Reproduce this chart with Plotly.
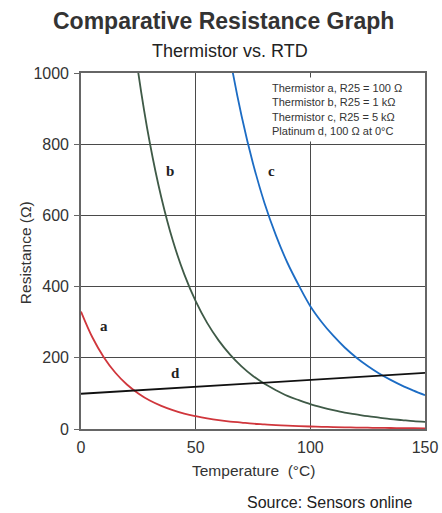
import plotly.graph_objects as go

# Temperatures (°C)
temps = [0, 5, 10, 15, 20, 25, 30, 35, 40, 45, 50, 55, 60, 65, 70, 75,
         80, 85, 90, 95, 100, 105, 110, 115, 120, 125, 130, 135, 140, 145, 150]

# Thermistor a, R25 = 100 ohm
res_a = [330, 257, 201, 158, 125, 100, 80, 65, 53, 43, 36, 30, 25, 21, 18, 15,
         13, 11, 9.3, 8.1, 7.0, 6.1, 5.3, 4.6, 4.1, 3.6, 3.2, 2.8, 2.5, 2.2, 2.0]
# Thermistor b, R25 = 1 kohm
res_b = [3362, 2593, 2018, 1584, 1254, 1000, 804, 651, 530, 435, 359, 298, 249, 209, 176, 149,
         127, 109, 93, 81, 70, 61, 53, 46, 41, 36, 32, 28, 25, 22, 20]
# Thermistor c, R25 = 5 kohm
res_c = [16810, 12965, 10088, 7919, 6268, 5000, 4019, 3253, 2651, 2174, 1794, 1489, 1243, 1043, 880, 746,
         635, 544, 467, 403, 345, 300, 262, 229, 201, 177, 156, 138, 122, 108, 95]
# Platinum RTD d, 100 ohm at 0 °C
temps_d = [0, 50, 100, 150]
res_d = [99, 118.5, 138, 157.5]

curve_labels = ["a", "b", "c", "d"]
label_x = [10, 39, 83, 41]
label_y = [290, 724, 724, 158]

legend_lines = ["Thermistor a, R25 = 100 Ω", "Thermistor b, R25 = 1 kΩ",
                "Thermistor c, R25 = 5 kΩ", "Platinum d, 100 Ω at 0°C"]

x_ticks = [0, 50, 100, 150]
y_ticks = [0, 200, 400, 600, 800, 1000]

FONT = "Arial, Liberation Sans, Helvetica, sans-serif"

fig = go.Figure()
fig.add_trace(go.Scatter(x=temps, y=res_a, mode="lines",
                         line=dict(color="#d0363c", width=1.8, shape="spline", smoothing=1)))
fig.add_trace(go.Scatter(x=temps, y=res_b, mode="lines",
                         line=dict(color="#3f5a47", width=1.8, shape="spline", smoothing=1)))
fig.add_trace(go.Scatter(x=temps, y=res_c, mode="lines",
                         line=dict(color="#1c6cc4", width=1.8, shape="spline", smoothing=1)))
fig.add_trace(go.Scatter(x=temps_d, y=res_d, mode="lines",
                         line=dict(color="#111111", width=1.8)))

for t, xv, yv in zip(curve_labels, label_x, label_y):
    fig.add_annotation(x=xv, y=yv, text="<b>%s</b>" % t, showarrow=False,
                       font=dict(family="Liberation Serif", size=15, color="#222"))

# legend text box
fig.add_annotation(x=0.541, xref="paper", y=0.989, yref="paper",
                   xanchor="left", yanchor="top", align="left",
                   text="<br>".join(legend_lines), showarrow=False,
                   bgcolor="white", borderpad=4,
                   font=dict(family=FONT, size=11, color="#333"))

# titles
fig.add_annotation(x=0.5, xref="paper", y=1, yref="paper", yshift=52, xshift=-30,
                   yanchor="middle", text="<b>Comparative Resistance Graph</b>", showarrow=False,
                   font=dict(family=FONT, size=23, color="#333"))
fig.add_annotation(x=0.5, xref="paper", y=1, yref="paper", yshift=22, xshift=-23,
                   yanchor="middle", text="Thermistor vs. RTD", showarrow=False,
                   font=dict(family=FONT, size=18, color="#222"))
# axis titles
fig.add_annotation(x=0.5, xref="paper", y=0, yref="paper", yshift=-41, yanchor="middle",
                   text="Temperature &nbsp;(°C)", showarrow=False,
                   font=dict(family=FONT, size=15.5, color="#333"))
fig.add_annotation(x=0, xref="paper", y=0.494, yref="paper", xshift=-56, xanchor="center",
                   yanchor="middle", textangle=-90, text="Resistance (Ω)", showarrow=False,
                   font=dict(family=FONT, size=15.5, color="#333"))
# source
fig.add_annotation(x=1, xref="paper", y=0, yref="paper", xshift=-10, yshift=-73,
                   xanchor="right", yanchor="middle", text="Source: Sensors online",
                   showarrow=False, font=dict(family=FONT, size=16, color="#222"))

fig.update_layout(
    width=442, height=513,
    margin=dict(l=81, r=17, t=73, b=84),
    paper_bgcolor="white", plot_bgcolor="white",
    showlegend=False,
    font=dict(family=FONT, size=16, color="#333"),
    xaxis=dict(range=[0, 150], tickvals=x_ticks, showgrid=True, gridcolor="#4a4a4a", gridwidth=1.4,
               showline=True, linecolor="#666", linewidth=1.6, mirror=True, ticks="",
               zeroline=False, ticklabelstandoff=3, automargin=False),
    yaxis=dict(range=[0, 1000], tickvals=y_ticks, showgrid=True, gridcolor="#4a4a4a", gridwidth=1.4,
               showline=True, linecolor="#666", linewidth=1.6, mirror=True, ticks="outside",
               ticklen=5, tickcolor="#666", zeroline=False, ticklabelstandoff=2, automargin=False),
)

fig.write_html("out.html", config={"displayModeBar": False},
               post_script="document.body.style.margin='0';document.body.style.overflow='hidden';")
